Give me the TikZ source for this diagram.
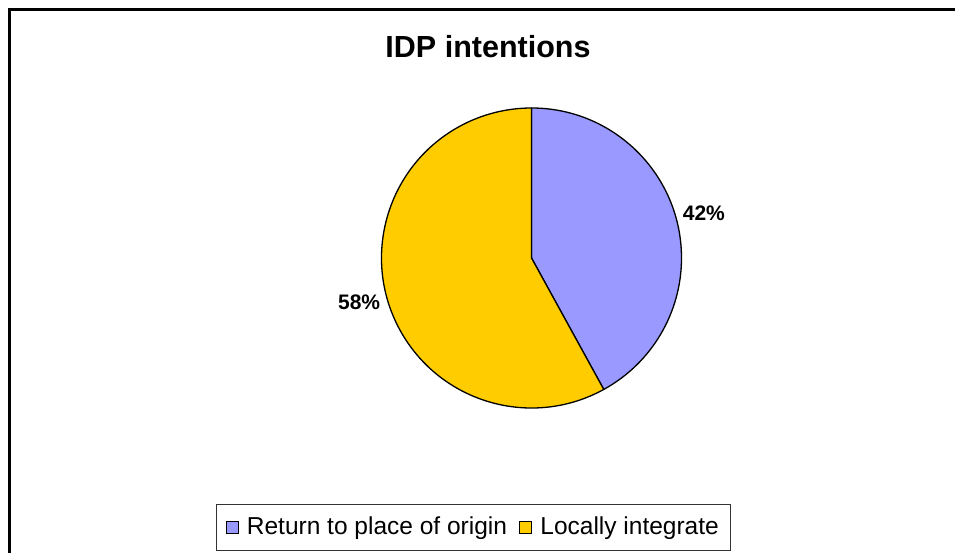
\documentclass[tikz,border=0pt]{standalone}
\usepackage{fontspec}
\setmainfont{Liberation Sans}
\usetikzlibrary{positioning}

\definecolor{returnblue}{HTML}{9999FF}
\definecolor{localyellow}{HTML}{FFCC00}

\tikzset{
  slice/.style={draw=black,line width=1.3pt,line join=round},
  pctlabel/.style={font=\fontsize{21}{24}\selectfont\bfseries,inner sep=0pt},
  legmark/.style={draw=black,line width=1pt,minimum size=12pt,inner sep=0pt},
  legtext/.style={font=\fontsize{24.5}{28}\selectfont,inner sep=0pt},
}

\begin{document}
\begin{tikzpicture}[x=1pt,y=1pt]
  \useasboundingbox (0,0) rectangle (955,553);
  % chart frame, cut off at right and bottom
  \draw[line width=2.5pt] (9.5,0) -- (9.5,543.5) -- (955,543.5);

  \node[font=\fontsize{30.5}{34}\selectfont\bfseries,inner sep=0pt] (title) at (488,506) {IDP intentions};

  %%%%  Pie
  \coordinate (zero) at (531.5,295);
  \pgfmathsetmacro\cut{90-0.42*360}
  \foreach \a/\b/\col/\pct/\nm in {90/\cut/returnblue/42/ret,\cut/-270/localyellow/58/loc}
  {\filldraw[slice,fill=\col] (zero) -- ++(\a:150) arc (\a:\b:150) -- cycle;
   \pgfmathsetmacro\mid{(\a+\b)/2}
   \node[pctlabel] (pct\nm) at ([shift={(\mid:178)}]zero) {\pct\%};
  };

  %%%%  Legend
  \draw[line width=0.8pt,draw=black!80] (216.5,49) rectangle (730,3);
  \node[legmark,fill=returnblue] (retmark) at (232.7,25.2) {};
  \node[legtext,right=7.5pt of retmark] (rettext) {Return to place of origin};
  \node[legmark,fill=localyellow,right=12pt of rettext] (locmark) {};
  \node[legtext,right=8pt of locmark] (loctext) {Locally integrate};
\end{tikzpicture}
\end{document}
